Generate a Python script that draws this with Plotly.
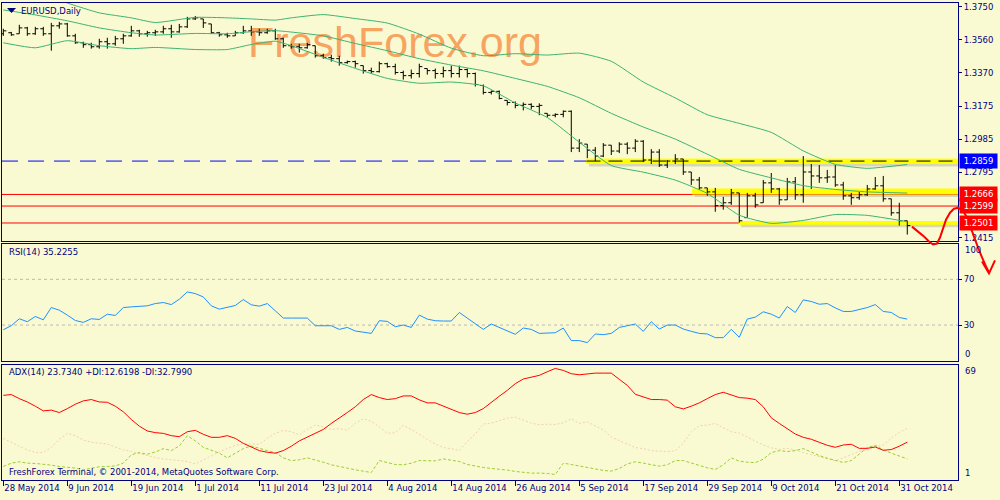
import plotly.graph_objects as go
import pandas as pd

# ---------------- data ----------------
dates = pd.bdate_range("2014-05-28", "2014-11-03")  # 114 daily bars

opens = [1.3595, 1.3601, 1.3595, 1.3629, 1.3595, 1.3624, 1.3595, 1.3641, 1.3652, 1.3583,
         1.3543, 1.3532, 1.3520, 1.3549, 1.3537, 1.3566, 1.3583, 1.3612, 1.3595, 1.3601,
         1.3606, 1.3624, 1.3606, 1.3635, 1.3681, 1.3681, 1.3652, 1.3601, 1.3589, 1.3583,
         1.3601, 1.3612, 1.3606, 1.3601, 1.3612, 1.3566, 1.3526, 1.3520, 1.3514, 1.3526,
         1.3468, 1.3457, 1.3451, 1.3428, 1.3434, 1.3411, 1.3382, 1.3376, 1.3422, 1.3405,
         1.3371, 1.3353, 1.3365, 1.3394, 1.3382, 1.3365, 1.3382, 1.3365, 1.3388, 1.3365,
         1.3296, 1.3256, 1.3262, 1.3210, 1.3198, 1.3181, 1.3187, 1.3175, 1.3135, 1.3124,
         1.3129, 1.3147, 1.2934, 1.2957, 1.2922, 1.2888, 1.2951, 1.2917, 1.2957, 1.2934,
         1.2974, 1.2865, 1.2911, 1.2836, 1.2859, 1.2871, 1.2796, 1.2750, 1.2704, 1.2681,
         1.2601, 1.2618, 1.2675, 1.2532, 1.2658, 1.2618, 1.2733, 1.2698, 1.2635, 1.2739,
         1.2664, 1.2796, 1.2773, 1.2762, 1.2767, 1.2721, 1.2658, 1.2647, 1.2664, 1.2698,
         1.2716, 1.2641, 1.2560, 1.2514]
highs = [1.3624, 1.3606, 1.3647, 1.3635, 1.3635, 1.3635, 1.3658, 1.3664, 1.3658, 1.3595,
         1.3549, 1.3543, 1.3566, 1.3572, 1.3583, 1.3595, 1.3641, 1.3618, 1.3612, 1.3618,
         1.3641, 1.3647, 1.3652, 1.3693, 1.3698, 1.3681, 1.3652, 1.3606, 1.3601, 1.3612,
         1.3641, 1.3641, 1.3624, 1.3624, 1.3624, 1.3572, 1.3537, 1.3537, 1.3543, 1.3526,
         1.3480, 1.3474, 1.3468, 1.3440, 1.3440, 1.3411, 1.3399, 1.3434, 1.3428, 1.3422,
         1.3382, 1.3388, 1.3422, 1.3394, 1.3394, 1.3405, 1.3411, 1.3411, 1.3394, 1.3371,
         1.3302, 1.3267, 1.3267, 1.3210, 1.3204, 1.3198, 1.3193, 1.3193, 1.3135, 1.3135,
         1.3152, 1.3152, 1.2986, 1.2957, 1.2940, 1.2963, 1.2951, 1.2968, 1.2968, 1.2986,
         1.2980, 1.2928, 1.2928, 1.2865, 1.2899, 1.2871, 1.2796, 1.2767, 1.2704, 1.2704,
         1.2652, 1.2698, 1.2675, 1.2675, 1.2675, 1.2750, 1.2790, 1.2704, 1.2762, 1.2767,
         1.2888, 1.2842, 1.2836, 1.2808, 1.2836, 1.2739, 1.2675, 1.2681, 1.2721, 1.2767,
         1.2773, 1.2641, 1.2618, 1.2514]
lows = [1.3583, 1.3583, 1.3595, 1.3583, 1.3589, 1.3583, 1.3497, 1.3624, 1.3578, 1.3537,
        1.3514, 1.3509, 1.3509, 1.3509, 1.3526, 1.3537, 1.3578, 1.3578, 1.3578, 1.3583,
        1.3595, 1.3572, 1.3601, 1.3629, 1.3675, 1.3629, 1.3595, 1.3578, 1.3572, 1.3583,
        1.3595, 1.3583, 1.3583, 1.3595, 1.3560, 1.3514, 1.3509, 1.3486, 1.3509, 1.3457,
        1.3451, 1.3434, 1.3411, 1.3422, 1.3399, 1.3365, 1.3365, 1.3371, 1.3399, 1.3359,
        1.3330, 1.3336, 1.3342, 1.3359, 1.3336, 1.3342, 1.3342, 1.3342, 1.3342, 1.3290,
        1.3244, 1.3244, 1.3216, 1.3181, 1.3164, 1.3152, 1.3158, 1.3124, 1.3112, 1.3112,
        1.3112, 1.2911, 1.2911, 1.2876, 1.2859, 1.2882, 1.2894, 1.2905, 1.2899, 1.2911,
        1.2854, 1.2842, 1.2825, 1.2819, 1.2842, 1.2779, 1.2721, 1.2693, 1.2658, 1.2566,
        1.2578, 1.2606, 1.2503, 1.2532, 1.2589, 1.2618, 1.2675, 1.2606, 1.2635, 1.2635,
        1.2618, 1.2698, 1.2733, 1.2733, 1.2710, 1.2635, 1.2606, 1.2635, 1.2658, 1.2693,
        1.2624, 1.2543, 1.2486, 1.2434]
closes = [1.3612, 1.3589, 1.3629, 1.3595, 1.3624, 1.3595, 1.3641, 1.3652, 1.3583, 1.3543,
          1.3532, 1.3520, 1.3549, 1.3537, 1.3566, 1.3583, 1.3612, 1.3595, 1.3601, 1.3606,
          1.3624, 1.3606, 1.3635, 1.3681, 1.3687, 1.3658, 1.3601, 1.3589, 1.3583, 1.3601,
          1.3612, 1.3606, 1.3601, 1.3612, 1.3566, 1.3526, 1.3520, 1.3514, 1.3532, 1.3468,
          1.3457, 1.3451, 1.3428, 1.3434, 1.3422, 1.3382, 1.3376, 1.3422, 1.3405, 1.3371,
          1.3353, 1.3365, 1.3405, 1.3382, 1.3365, 1.3382, 1.3365, 1.3388, 1.3365, 1.3302,
          1.3256, 1.3262, 1.3221, 1.3198, 1.3181, 1.3187, 1.3175, 1.3181, 1.3124, 1.3129,
          1.3147, 1.2934, 1.2963, 1.2922, 1.2888, 1.2951, 1.2917, 1.2957, 1.2934, 1.2974,
          1.2865, 1.2911, 1.2836, 1.2859, 1.2871, 1.2796, 1.2750, 1.2704, 1.2681, 1.2601,
          1.2618, 1.2675, 1.2514, 1.2658, 1.2606, 1.2733, 1.2698, 1.2635, 1.2739, 1.2664,
          1.2796, 1.2773, 1.2762, 1.2767, 1.2721, 1.2658, 1.2647, 1.2664, 1.2698, 1.2716,
          1.2641, 1.2560, 1.2514, 1.2486]

# Bollinger bands (20,2) at selected bars
bb_idx = [0, 4, 8, 12, 16, 19, 24, 28, 31, 34, 36, 40, 44, 48, 52, 56, 60, 64, 68, 72,
          76, 80, 84, 88, 92, 96, 100, 104, 108, 113]
bb_upper = [1.3922, 1.3842, 1.3773, 1.3716, 1.3687, 1.3660, 1.3690, 1.3687, 1.3681, 1.3674,
            1.3687, 1.3706, 1.3683, 1.3657, 1.3593, 1.3512, 1.3468, 1.3480, 1.3472, 1.3483,
            1.3436, 1.3316, 1.3224, 1.3127, 1.3077, 1.3025, 1.2918, 1.2840, 1.2817, 1.2839]
bb_middle = [1.3733, 1.3704, 1.3670, 1.3629, 1.3601, 1.3588, 1.3597, 1.3595, 1.3607, 1.3613,
             1.3605, 1.3583, 1.3539, 1.3497, 1.3451, 1.3414, 1.3381, 1.3337, 1.3291, 1.3225,
             1.3135, 1.3056, 1.2986, 1.2899, 1.2811, 1.2762, 1.2717, 1.2695, 1.2681, 1.2674]
bb_lower = [1.3543, 1.3514, 1.3555, 1.3526, 1.3509, 1.3516, 1.3504, 1.3504, 1.3533, 1.3552,
            1.3526, 1.3459, 1.3395, 1.3337, 1.3309, 1.3316, 1.3294, 1.3195, 1.3111, 1.2968,
            1.2833, 1.2795, 1.2749, 1.2672, 1.2546, 1.2499, 1.2516, 1.2550, 1.2545, 1.2509]

rsi = [25.9, 29.4, 35.5, 32.9, 37.5, 34.6, 45.3, 43.0, 38.7, 34.0,
       32.3, 35.5, 34.9, 39.5, 38.4, 45.3, 45.9, 46.2, 46.8, 48.8,
       49.7, 47.9, 52.6, 59.0, 57.5, 54.6, 46.8, 43.9, 45.3, 47.1,
       52.3, 47.7, 46.5, 48.8, 42.5, 36.1, 36.1, 36.1, 36.1, 29.4,
       29.4, 29.4, 26.2, 27.9, 24.8, 23.6, 22.7, 33.8, 33.2, 28.5,
       30.0, 27.9, 38.7, 35.2, 33.8, 33.5, 33.5, 41.0, 36.1, 30.9,
       26.2, 30.9, 27.9, 24.5, 21.9, 27.4, 26.2, 22.7, 22.7, 23.3,
       27.4, 16.4, 16.4, 14.6, 22.2, 21.6, 22.7, 27.9, 29.4, 30.9,
       24.5, 32.9, 26.5, 30.0, 30.0, 26.5, 24.5, 22.7, 22.2, 19.0,
       19.0, 26.2, 19.3, 35.2, 36.9, 41.6, 39.5, 36.1, 46.2, 41.0,
       52.0, 50.6, 48.2, 48.8, 45.0, 41.9, 41.9, 43.6, 45.3, 47.9,
       41.9, 41.0, 36.6, 35.2]

adx = [54.7, 55.2, 52.5, 50.3, 47.5, 44.4, 44.9, 43.3, 45.9, 48.8,
       51.0, 51.9, 50.3, 50.1, 47.5, 43.8, 38.7, 34.3, 31.1, 30.0,
       29.5, 28.0, 27.3, 30.6, 31.5, 28.9, 26.9, 26.9, 28.0, 26.2,
       22.9, 20.5, 18.1, 17.0, 16.4, 18.1, 21.0, 24.5, 26.9, 29.5,
       32.1, 36.1, 40.0, 43.3, 47.1, 51.9, 55.2, 53.2, 51.9, 52.5,
       54.3, 54.3, 51.7, 49.7, 49.7, 47.5, 45.3, 43.3, 42.2, 43.3,
       45.9, 49.7, 54.1, 58.0, 62.4, 65.5, 66.8, 67.9, 70.3, 72.5,
       71.2, 69.0, 68.3, 69.0, 69.4, 69.4, 69.4, 65.3, 61.3, 55.4,
       53.4, 51.9, 51.9, 51.5, 47.1, 45.7, 47.5, 49.7, 52.5, 55.2,
       56.7, 54.7, 53.2, 52.8, 51.9, 47.1, 39.8, 36.1, 32.8, 29.1,
       26.9, 25.6, 23.6, 21.6, 20.3, 21.8, 22.3, 19.6, 19.6, 20.5,
       18.3, 18.8, 21.0, 23.7]
plus_di = [7.6, 9.8, 10.7, 9.8, 9.6, 9.3, 8.5, 7.6, 7.1, 6.5,
           5.4, 6.3, 7.4, 7.6, 8.0, 9.8, 15.3, 16.8, 15.7, 17.2,
           19.4, 18.1, 21.2, 28.0, 24.5, 20.3, 18.1, 16.4, 13.3, 16.1,
           19.4, 21.2, 19.4, 18.1, 16.8, 13.3, 11.5, 12.0, 13.3, 12.0,
           10.4, 8.7, 7.4, 6.5, 5.4, 4.5, 3.6, 11.5, 10.0, 8.9,
           8.7, 9.8, 11.5, 11.5, 11.3, 12.6, 12.0, 10.9, 8.9, 7.8,
           6.9, 6.3, 5.8, 5.2, 4.3, 3.6, 3.2, 3.2, 3.0, 2.3,
           9.8, 8.9, 7.8, 6.7, 5.6, 5.0, 4.5, 6.3, 9.3, 10.7,
           9.8, 8.7, 7.8, 8.7, 11.5, 11.5, 10.0, 8.0, 6.7, 5.6,
           8.7, 13.3, 11.1, 10.4, 10.2, 12.4, 16.8, 18.1, 17.5, 18.1,
           19.4, 17.2, 14.8, 13.1, 11.7, 10.2, 11.5, 15.9, 20.1, 21.6,
           18.6, 16.4, 14.4, 12.6]
minus_di = [26.2, 23.4, 21.0, 18.6, 16.8, 16.8, 20.3, 25.6, 29.5, 28.0,
            25.1, 23.6, 23.2, 22.5, 20.5, 18.6, 17.5, 16.1, 14.6, 13.5,
            12.6, 12.0, 11.5, 10.9, 9.3, 12.0, 14.2, 17.2, 19.4, 21.6,
            22.7, 22.3, 22.3, 26.2, 29.5, 31.5, 30.6, 28.6, 32.1, 35.0,
            33.9, 32.1, 32.6, 31.7, 36.1, 39.2, 37.4, 33.9, 29.5, 30.0,
            34.8, 32.1, 28.6, 25.6, 22.5, 20.1, 19.4, 18.1, 24.2, 29.1,
            35.7, 36.3, 37.8, 39.6, 40.3, 38.3, 36.3, 35.2, 35.6, 35.4,
            36.5, 39.2, 36.1, 37.2, 34.6, 31.7, 27.1, 24.7, 22.1, 20.1,
            19.4, 18.1, 17.7, 17.5, 17.9, 22.9, 30.6, 34.6, 35.0, 36.1,
            33.2, 30.6, 29.7, 27.1, 24.2, 21.8, 19.9, 19.0, 19.6, 18.6,
            16.8, 15.3, 13.9, 12.4, 11.3, 13.3, 15.3, 17.7, 18.6, 20.7,
            21.8, 26.4, 30.2, 32.8]

price_ticks = [1.3750, 1.3560, 1.3370, 1.3175, 1.2985, 1.2795, 1.2415]
levels = [1.2859, 1.2666, 1.2599, 1.2501]
level_colors = ["#0000ff", "#ff0000", "#ff0000", "#ff0000"]
# highlighted zones: (first bar, price low, price high)
zones = [(72.9, 1.2842, 1.2872), (86.1, 1.2666, 1.2700), (91.9, 1.2491, 1.2513)]

# ---------------- styling ----------------
NAVY = "#000080"
BG = "#fafad2"
FONT = "DejaVu Sans"
xi = list(range(len(dates)))
XR = [-0.1625, 119.34]


def P(px, py):
    return px / 1000.0, 1 - py / 500.0


fig = go.Figure()

# price panel
fig.add_trace(go.Ohlc(x=xi, open=opens, high=highs, low=lows, close=closes,
                      increasing=dict(line=dict(color="black", width=1)),
                      decreasing=dict(line=dict(color="black", width=1)),
                      tickwidth=0.38, xaxis="x", yaxis="y", hoverinfo="none"))
for band in (bb_upper, bb_middle, bb_lower):
    fig.add_trace(go.Scatter(x=bb_idx, y=band, mode="lines",
                             line=dict(color="#3cb371", width=1, shape="spline", smoothing=0.5),
                             xaxis="x", yaxis="y", hoverinfo="skip"))

# RSI panel
fig.add_trace(go.Scatter(x=xi, y=rsi, mode="lines", line=dict(color="#1e90ff", width=1),
                         xaxis="x2", yaxis="y2", hoverinfo="skip"))

# ADX panel
fig.add_trace(go.Scatter(x=xi, y=minus_di, mode="lines",
                         line=dict(color="#f2cfae", width=1, dash="2px,2px"),
                         xaxis="x3", yaxis="y3", hoverinfo="skip"))
fig.add_trace(go.Scatter(x=xi, y=plus_di, mode="lines",
                         line=dict(color="#9acd32", width=1, dash="3px,2px"),
                         xaxis="x3", yaxis="y3", hoverinfo="skip"))
fig.add_trace(go.Scatter(x=xi, y=adx, mode="lines", line=dict(color="#ff0000", width=1),
                         xaxis="x3", yaxis="y3", hoverinfo="skip"))

common_x = dict(range=XR, domain=[0.002, 0.958], showgrid=False, zeroline=False,
                showline=True, mirror=True, linecolor=NAVY, linewidth=1, fixedrange=True)
common_y = dict(side="right", showgrid=False, zeroline=False, showline=True, mirror=True,
                linecolor=NAVY, linewidth=1, fixedrange=True,
                tickfont=dict(family=FONT, size=8.5, color=NAVY))

tick_idx = list(range(0, len(dates), 8))
tick_txt = [f"{dates[i].day} {dates[i]:%b %Y}" for i in tick_idx]

fig.update_layout(
    width=1000, height=500, margin=dict(l=0, r=0, t=0, b=0),
    paper_bgcolor=BG, plot_bgcolor="rgba(0,0,0,0)", showlegend=False,
    xaxis=dict(**common_x, anchor="y", showticklabels=False, ticks="",
               rangeslider=dict(visible=False)),
    xaxis2=dict(**common_x, anchor="y2", showticklabels=False, ticks=""),
    xaxis3=dict(**common_x, anchor="y3", tickvals=tick_idx, ticktext=tick_txt,
                ticks="outside", ticklen=5, tickcolor=NAVY,
                ticklabelposition="outside right",
                tickfont=dict(family=FONT, size=8.5, color=NAVY)),
    yaxis=dict(**common_y, anchor="x", domain=[0.518, 0.996], range=[1.23995, 1.37730],
               tickvals=price_ticks, ticktext=[f"{v:.4f}" for v in price_ticks],
               ticks="outside", ticklen=3, tickcolor=NAVY),
    yaxis2=dict(**common_y, anchor="x2", domain=[0.276, 0.512], range=[-1.3, 101.3],
                tickvals=[70, 30], ticktext=["70", "30"], ticks="outside", ticklen=3,
                tickcolor=NAVY),
    yaxis3=dict(**common_y, anchor="x3", domain=[0.036, 0.268], range=[-1.43, 74.9],
                showticklabels=False, ticks=""),
)

shapes = []
# watermark behind everything
wx0, wy0 = P(245, 62)
wx1, wy1 = P(545, 12)
shapes.append(dict(type="rect", xref="paper", yref="paper", x0=wx0, x1=wx1, y0=wy0, y1=wy1,
                   line=dict(width=0), fillcolor="rgba(0,0,0,0)", layer="below",
                   label=dict(text="FreshForex.org", textposition="middle center",
                              font=dict(family="Liberation Sans", size=43, color="#f6a45f"))))
# zone shadows and yellow zones
for x0, lo, hi in zones:
    shapes.append(dict(type="rect", xref="x", yref="y", x0=x0 + 0.3, x1=XR[1], y0=lo - 0.0014,
                       y1=hi - 0.0014, line=dict(width=0), fillcolor="rgba(90,90,80,0.22)",
                       layer="below"))
for x0, lo, hi in zones:
    shapes.append(dict(type="rect", xref="x", yref="y", x0=x0, x1=XR[1], y0=lo, y1=hi,
                       line=dict(width=0), fillcolor="#ffff00", layer="below"))
# level lines
shapes.append(dict(type="line", xref="x domain", yref="y", x0=0, x1=1, y0=levels[0], y1=levels[0],
                   line=dict(color="#0000ff", width=1, dash="16px,10px"), layer="below"))
shapes.append(dict(type="rect", xref="x", yref="y", x0=zones[0][0], x1=XR[1],
                   y0=zones[0][1], y1=zones[0][2], line=dict(width=0), fillcolor="#ffff00",
                   layer="below"))
shapes.append(dict(type="line", xref="x", yref="y", x0=zones[0][0], x1=XR[1],
                   y0=levels[0], y1=levels[0],
                   line=dict(color="black", width=1, dash="14px,8px"), layer="below"))
for lv in levels[1:]:
    shapes.append(dict(type="line", xref="x domain", yref="y", x0=0, x1=1, y0=lv, y1=lv,
                       line=dict(color="#ff0000", width=1), layer="below"))
# RSI 70 / 30 levels
for lv in (70, 30):
    shapes.append(dict(type="line", xref="x2 domain", yref="y2", x0=0, x1=1, y0=lv, y1=lv,
                       line=dict(color="#b8b8b8", width=1, dash="3px,3px"), layer="below"))

# small triangle by the symbol label
t = [P(7, 7), P(16, 7), P(11.5, 12)]
shapes.append(dict(type="path", xref="paper", yref="paper",
                   path=f"M {t[0][0]},{t[0][1]} L {t[1][0]},{t[1][1]} L {t[2][0]},{t[2][1]} Z",
                   fillcolor=NAVY, line=dict(width=0)))

# hand-drawn red forecast curve with arrow
curve = [(912, 227), (918, 232), (924, 237), (929, 242), (933, 245), (937, 244), (940, 238),
         (943, 229), (946, 220), (950, 213), (954, 209), (958, 208), (962, 210), (966, 216),
         (970, 226), (974, 237), (978, 248), (982, 258), (986, 267), (989, 273)]
pts = [P(a, b) for a, b in curve]
path = "M " + " L ".join(f"{a:.4f},{b:.4f}" for a, b in pts)
shapes.append(dict(type="path", xref="paper", yref="paper", path=path,
                   line=dict(color="#ff0000", width=2)))
ah = [P(982, 262), P(989, 274), P(995, 261)]
shapes.append(dict(type="path", xref="paper", yref="paper",
                   path=f"M {ah[0][0]},{ah[0][1]} L {ah[1][0]},{ah[1][1]} L {ah[2][0]},{ah[2][1]}",
                   line=dict(color="#ff0000", width=2)))

fig.update_layout(shapes=shapes)

ann = []


def txt(px, py, s, color=NAVY, size=8.5, anchor="left"):
    x, y = P(px, py)
    ann.append(dict(x=x, y=y, xref="paper", yref="paper", text=s, showarrow=False,
                    xanchor=anchor, yanchor="middle",
                    font=dict(family=FONT, size=size, color=color)))


txt(19, 10, "EURUSD,Daily")
txt(7, 253, "RSI(14) 35.2255")
txt(7, 373, "ADX(14) 23.7340 +DI:12.6198 -DI:32.7990")
txt(7, 474, "FreshForex Terminal, © 2001-2014, MetaQuotes Software Corp.")
txt(963, 250, "100")
txt(963, 355, "0")
txt(963, 372, "69")
txt(963, 475, "1")

for lv, col in zip(levels, level_colors):
    ann.append(dict(x=0.959, xref="paper", xanchor="left", y=lv, yref="y", yanchor="middle",
                    text=f"{lv:.4f}", showarrow=False, bgcolor=col, width=35, height=12,
                    borderpad=1, font=dict(family=FONT, size=8.5, color="white")))

fig.update_layout(annotations=ann)

fig.write_html("out.html", config={"displayModeBar": False},
               post_script="document.body.style.margin='0';"
                           "document.body.style.overflow='hidden';")
